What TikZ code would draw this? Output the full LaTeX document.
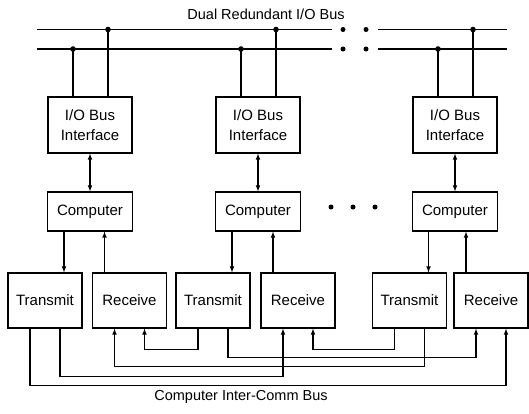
\documentclass[tikz,border=0pt]{standalone}
\usepackage{fontspec}
\setmainfont{Liberation Sans}
\usepackage{tikz}
\usetikzlibrary{positioning}

\begin{document}
\begin{tikzpicture}[x=1pt, y=-1pt,
        block/.style={draw, line width=1.1pt, inner sep=0pt, align=center, font=\fontsize{15}{20}\selectfont},
        iface/.style={block, minimum width=84pt, minimum height=56pt},
        comp/.style={block, minimum width=85pt, minimum height=39pt},
        txrx/.style={block, minimum width=74pt, minimum height=55pt},
        bus/.style={line width=1.1pt},
        connection/.style={->, >=latex, line width=1.1pt},
        buslabel/.style={font=\fontsize{14.5}{18}\selectfont}
    ]
    \useasboundingbox (0,0) rectangle (529,413);

    % Dual bus lines
    \coordinate (topA) at (37,29.5);
    \coordinate (topB) at (332,29.5);
    \coordinate (topC) at (378,29.5);
    \coordinate (topD) at (507,29.5);
    \coordinate (botA) at (37,49);
    \coordinate (botB) at (332,49);
    \coordinate (botC) at (378,49);
    \coordinate (botD) at (507,49);
    \draw[bus] (topA) -- (topB) (topC) -- (topD);
    \draw[bus] (botA) -- (botB) (botC) -- (botD);
    \foreach \x in {343,366} {
        \fill (\x,29.5) circle (2.5);
        \fill (\x,49) circle (2.5);
    }
    \node[buslabel] (title) at (266,14) {Dual Redundant I/O Bus};

    % Interface and computer columns
    \foreach \n/\x in {1/90, 2/258, 3/455} {
        \node[iface] (I\n) at (\x,125) {I/O Bus\\Interface};
        \node[comp] (C\n) at (\x,211.5) {Computer};
        \draw[connection, <->] (I\n) -- (C\n);
        \draw[bus] ([xshift=18]I\n.north) -- ([xshift=18]I\n.north |- topA) coordinate (jt\n);
        \draw[bus] ([xshift=-17]I\n.north) -- ([xshift=-17]I\n.north |- botA) coordinate (jb\n);
        \fill (jt\n) circle (2.8);
        \fill (jb\n) circle (2.8);
    }
    \foreach \x in {331,353,375} {
        \fill (\x,207) circle (2.5);
    }

    % Transmit and receive units
    \foreach \n/\t/\r in {1/45/129.5, 2/213/298, 3/409.5/491} {
        \node[txrx] (T\n) at (\t,300.5) {Transmit};
        \node[txrx] (R\n) at (\r,300.5) {Receive};
        \draw[connection] ([xshift=19]T\n.north |- C\n.south) -- ([xshift=19]T\n.north);
        \draw[connection] ([xshift=-25]R\n.north) -- ([xshift=-25]R\n.north |- C\n.south);
    }

    % Inter-computer links
    \draw[connection] ([xshift=-15]T2.south) -- ++(0,21) -| ([xshift=15]R1.south);
    \draw[connection] ([xshift=15]T2.south) -- ++(0,29) -| ([xshift=-15]R3.south);
    \draw[connection] ([xshift=-15]T3.south) -- ++(0,21) -| ([xshift=15]R2.south);
    \draw[connection] ([xshift=15]T3.south) -- ++(0,38) -| ([xshift=-15]R1.south);
    \draw[connection] ([xshift=15]T1.south) -- ++(0,48) -| ([xshift=-15]R2.south);
    \draw[connection] ([xshift=-15]T1.south) -- ++(0,57) -| ([xshift=15]R3.south);

    \node[buslabel] (commbus) at (241,397) {Computer Inter-Comm Bus};
\end{tikzpicture}
\end{document}
